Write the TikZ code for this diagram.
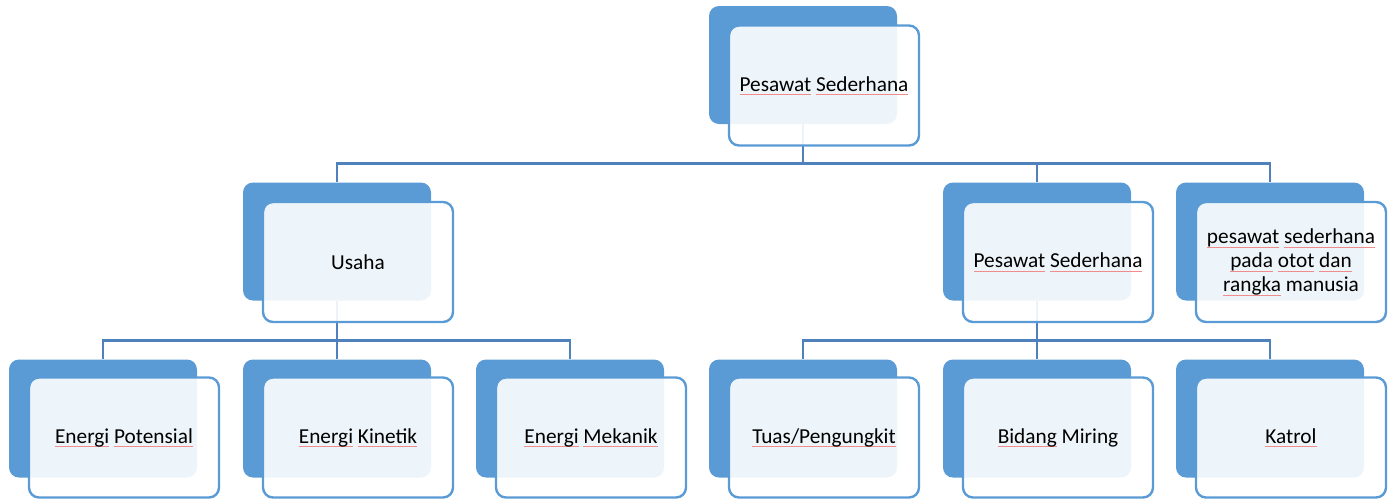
\documentclass[tikz,border=0pt]{standalone}
\usepackage{fontspec}
\setmainfont{Carlito}
\definecolor{backblue}{HTML}{5B9BD5}
\definecolor{linkblue}{HTML}{4F81BD}
\definecolor{spell}{HTML}{F08C8C}
\newsavebox\splbox
\newcommand\spl[1]{\sbox\splbox{#1}\rlap{\textcolor{spell}{\rule[-3.6pt]{\wd\splbox}{0.5pt}}}\usebox\splbox}
\begin{document}
\begin{tikzpicture}[x=1pt,y=-1pt,
  backbox/.style={fill=backblue, rounded corners=10pt, minimum width=188pt, minimum height=118pt, inner sep=0pt},
  frontbox/.style={draw=backblue, line width=2.4pt, fill=white, fill opacity=0.9, text opacity=1,
    rounded corners=10pt, minimum width=190pt, minimum height=120pt, inner sep=0pt,
    font=\fontsize{21.3}{24}\selectfont, align=center, text=black},
  link/.style={draw=linkblue, line width=2.6pt}]
\useasboundingbox (0,0) rectangle (1388,499);
% back boxes
\node[backbox] (b0) at (803,65) {};
\node[backbox] (b1) at (337,241.5) {};
\node[backbox] (b2) at (1037,241.5) {};
\node[backbox] (b3) at (1270,241.5) {};
\node[backbox] (b4) at (103,418.5) {};
\node[backbox] (b5) at (337,418.5) {};
\node[backbox] (b6) at (570,418.5) {};
\node[backbox] (b7) at (803,418.5) {};
\node[backbox] (b8) at (1037,418.5) {};
\node[backbox] (b9) at (1270,418.5) {};
% connectors
\draw[link] (b0.south) -- ++(0,39) -| (b1.north);
\draw[link] (b0.south) -- ++(0,39) -| (b2.north);
\draw[link] (b0.south) -- ++(0,39) -| (b3.north);
\draw[link] (b1.south) -- ++(0,40) -| (b4.north);
\draw[link] (b1.south) -- ++(0,40) -| (b5.north);
\draw[link] (b1.south) -- ++(0,40) -| (b6.north);
\draw[link] (b2.south) -- ++(0,40) -| (b7.north);
\draw[link] (b2.south) -- ++(0,40) -| (b8.north);
\draw[link] (b2.south) -- ++(0,40) -| (b9.north);
% front boxes
\node[frontbox] (f0) at (824,85.5) {\spl{Pesawat} \spl{Sederhana}};
\node[frontbox] (f1) at (358,262) {Usaha};
\node[frontbox] (f2) at (1058,262) {\spl{Pesawat} \spl{Sederhana}};
\node[frontbox] (f3) at (1291,262) {\spl{pesawat} \spl{sederhana}\\ \spl{pada} \spl{otot} \spl{dan}\\ \spl{rangka} manusia};
\node[frontbox] (f4) at (124,437.5) {\spl{Energi} \spl{Potensial}};
\node[frontbox] (f5) at (358,437.5) {\spl{Energi} \spl{Kinetik}};
\node[frontbox] (f6) at (591,437.5) {\spl{Energi} \spl{Mekanik}};
\node[frontbox] (f7) at (824,437.5) {\spl{Tuas/Pengungkit}};
\node[frontbox] (f8) at (1058,437.5) {\spl{Bidang} Miring};
\node[frontbox] (f9) at (1291,437.5) {\spl{Katrol}};
\end{tikzpicture}
\end{document}
